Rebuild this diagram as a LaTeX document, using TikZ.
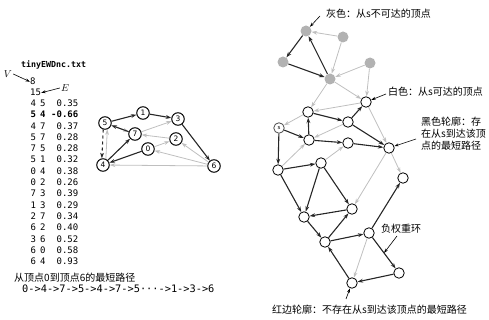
\documentclass[tikz,border=0pt]{standalone}
\usepackage{fontspec}
\newfontfamily\cjk{Noto Sans CJK SC}
\newfontfamily\mono{DejaVu Sans Mono}
\newfontfamily\dejavu{DejaVu Sans}
\usetikzlibrary{arrows.meta}

\begin{document}
\begin{tikzpicture}[
        x=1pt, y=-1pt,
        vnum/.style={circle, draw=black, line width=1pt, minimum size=12.5pt, inner sep=0pt, font=\dejavu\fontsize{7.5}{8}\selectfont},
        reach/.style={circle, draw=black, line width=0.8pt, fill=white, minimum size=10.5pt, inner sep=0pt},
        unreach/.style={circle, fill=black!30, minimum size=11pt, inner sep=0pt},
        blk/.style={-{Stealth[length=5.5pt, width=3.8pt]}, line width=1.1pt, color=black!85},
        gry/.style={-{Stealth[length=5.5pt, width=3.8pt]}, line width=0.8pt, color=black!25},
        pointer/.style={-{Stealth[length=4.5pt, width=3pt]}, line width=0.6pt},
        note/.style={font=\cjk\fontsize{10}{11.5}\selectfont, inner sep=0pt, align=left},
        datum/.style={font=\mono\fontsize{9}{11}\selectfont, inner sep=0pt}
    ]
    \useasboundingbox (0,0) rectangle (489,320);

    % input file
    \node[datum, font=\mono\bfseries\fontsize{8.3}{10}\selectfont, anchor=west] (fname) at (21,65) {tinyEWDnc.txt};
    \node[font=\itshape\fontsize{10}{12}\selectfont, inner sep=1pt] (lV) at (8,74) {$V$};
    \node[datum, anchor=base west] (nV) at (30,85) {8};
    \node[datum, anchor=base west] (nE) at (30,96) {15};
    \node[font=\itshape\fontsize{10}{12}\selectfont, inner sep=1pt] (lE) at (65,88) {$E$};
    \draw[pointer] (lV.east) -- (nV.west);
    \draw[pointer] (lE.west) -- (nE.east);
    \foreach \a/\b/\wt [count=\i] in {4/5/0.35, 5/4/-0.66, 4/7/0.37, 5/7/0.28, 7/5/0.28, 5/1/0.32, 0/4/0.38, 0/2/0.26,
                                      7/3/0.39, 1/3/0.29, 2/7/0.34, 6/2/0.40, 3/6/0.52, 6/0/0.58, 6/4/0.93} {
        \ifnum\i=2 \def\wgt{\bfseries}\else \def\wgt{}\fi
        \node[datum, anchor=base west] (pr\i) at (30.5,{106.5+11.3*(\i-1)}) {\wgt\a\hspace{0.45em}\b};
        \node[datum, anchor=base east] (wt\i) at (78.5,{106.5+11.3*(\i-1)}) {\wgt\wt};
    }
    \node[note, anchor=west] (pathcap) at (14,278) {从顶点0到顶点6的最短路径};
    \node[datum, font=\mono\fontsize{10.3}{12}\selectfont, anchor=west] (pathseq) at (22,289) {0->4->7->5->4->7->5···->1->3->6};

    % small digraph
    \node[vnum] (a5) at (105,123) {5};
    \node[vnum] (a1) at (143,113) {1};
    \node[vnum] (a3) at (178,119) {3};
    \node[vnum] (a7) at (135,134) {7};
    \node[vnum] (a2) at (176,139) {2};
    \node[vnum] (a0) at (148,149) {0};
    \node[vnum] (a4) at (103,165) {4};
    \node[vnum] (a6) at (214,166) {6};

    \draw[gry] (a4.65) -- (a5.290);
    \draw[gry] (a5) -- (a7);
    \draw[gry] (a7) -- (a3);
    \draw[gry] (a2) -- (a7);
    \draw[gry] (a0) -- (a2);
    \draw[gry] (a6) -- (a2);
    \draw[gry] (a6) -- (a0);
    \draw[gry] (a6) -- (a4);
    \draw[blk] (a5) -- (a1);
    \draw[blk] (a1) -- (a3);
    \draw[blk] (a3) -- (a6);
    \draw[blk] (a0) -- (a4);
    \draw[blk] (a4) -- (a7);
    \draw[blk] (a7) -- (a5);
    \draw[blk, dashed] (a5.255) -- (a4.100);

    % large digraph: unreachable part
    \node[unreach] (g1) at (306,31) {};
    \node[unreach] (g2) at (343,37) {};
    \node[unreach] (g3) at (283,62) {};
    \node[unreach] (g4) at (370,63) {};
    \node[unreach] (g5) at (330,79) {};

    % reachable part
    \node[reach] (v1) at (366,102) {};
    \node[reach] (v2) at (308,112) {};
    \node[reach, draw=black!70, font=\dejavu\fontsize{5.5}{6}\selectfont] (src) at (279,128) {s};
    \node[reach] (v3) at (348,122) {};
    \node[reach] (v4) at (309,140) {};
    \node[reach] (v5) at (348,143) {};
    \node[reach] (v6) at (389,148) {};
    \node[reach] (v7) at (278,170) {};
    \node[reach] (v8) at (321,163) {};
    \node[reach] (v9) at (403,178) {};
    \node[reach] (v10) at (304,217) {};
    \node[reach] (v11) at (352,209) {};
    \node[reach] (v12) at (325,242) {};
    \node[reach] (v13) at (369,233) {};
    \node[reach] (v14) at (399,273) {};
    \node[reach] (v15) at (352,283) {};

    \draw[gry] (g2) -- (g1);
    \draw[gry] (g2) -- (g5);
    \draw[gry] (g4) -- (g5);
    \draw[gry] (g4) -- (v1);
    \draw[gry] (g5) -- (v1);
    \draw[gry] (g5) -- (v2);
    \draw[gry] (v1) -- (v2);
    \draw[gry] (v1) -- (v6);
    \draw[gry] (v2) -- (src);
    \draw[gry] (v3) -- (v4);
    \draw[gry] (v7) -- (v4);
    \draw[gry] (v8) -- (v5);
    \draw[gry] (v6) -- (v9);
    \draw[gry] (v6) -- (v11);
    \draw[gry] (v13) -- (v15);

    \draw[blk] (g1) -- (g3);
    \draw[blk] (g3) -- (g5);
    \draw[blk] (g5) -- (g1);
    \draw[blk] (v2) -- (v3);
    \draw[blk] (src) -- (v4);
    \draw[blk] (v4) -- (v2);
    \draw[blk] (v4) -- (v5);
    \draw[blk] (v3) -- (v1);
    \draw[blk] (v3) -- (v6);
    \draw[blk] (v5) -- (v6);
    \draw[blk] (src) -- (v7);
    \draw[blk] (v7) -- (v8);
    \draw[blk] (v7) -- (v10);
    \draw[blk] (v8) -- (v10);
    \draw[blk] (v8) -- (v11);
    \draw[blk] (v11) -- (v10);
    \draw[blk] (v10) -- (v12);
    \draw[blk] (v12) -- (v11);
    \draw[blk] (v12) -- (v13);
    \draw[blk] (v13) -- (v9);
    \draw[blk] (v13) -- coordinate[pos=0.5] (cyc) (v14);
    \draw[blk] (v14) -- (v15);
    \draw[blk] (v15) -- (v12);

    % callouts
    \node[note, anchor=west] (lgray) at (326,14) {灰色：从s不可达的顶点};
    \node[note, anchor=west] (lwhite) at (388,92) {白色：从s可达的顶点};
    \node[note, anchor=north west, font=\cjk\fontsize{10}{12}\selectfont] (lblack) at (421,117) {黑色轮廓：存\\在从s到达该顶\\点的最短路径};
    \node[note, anchor=west] (lneg) at (381,229) {负权重环};
    \node[note, anchor=west] (lred) at (272,310) {红边轮廓：不存在从s到达该顶点的最短路径};
    \coordinate (pg) at (320,16);
    \coordinate (pw) at (386,94);
    \coordinate (pb) at (416,139);
    \coordinate (pn) at (397,236);
    \coordinate (pr) at (346,299);
    \draw[pointer] (pg) -- (g1);
    \draw[pointer] (pw) -- (v1);
    \draw[pointer] (pb) -- (v6);
    \draw[pointer] (pn) -- (cyc);
    \draw[pointer] (pr) -- (v15);
\end{tikzpicture}
\end{document}
